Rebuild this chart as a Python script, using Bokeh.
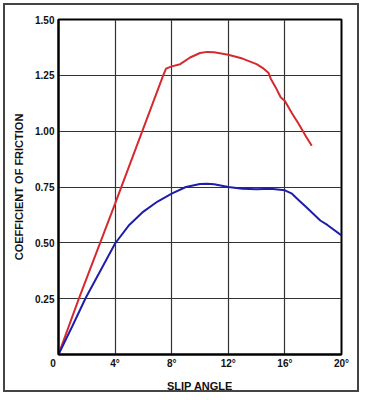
from bokeh.plotting import figure
from bokeh.models import FixedTicker, Range1d
from bokeh.embed import file_html
from bokeh.resources import INLINE

# Data
red_x = [0, 1.44, 4, 7.4, 7.6, 8, 8.6, 9.3, 10, 10.5, 11, 12, 13, 14, 14.5, 14.85, 15.0, 15.34, 15.7, 16, 16.5, 17, 17.5, 17.9]
red_y = [0, 0.25, 0.676, 1.25, 1.28, 1.29, 1.30, 1.33, 1.35, 1.355, 1.353, 1.342, 1.325, 1.30, 1.28, 1.26, 1.235, 1.197, 1.152, 1.135, 1.08, 1.03, 0.975, 0.935]

blue_x = [0, 1, 1.91, 2.97, 4, 5, 6, 7, 8, 9, 10, 10.5, 11, 12, 13, 14, 15, 16, 16.5, 17, 17.5, 18, 18.5, 19, 20]
blue_y = [0, 0.13, 0.252, 0.376, 0.497, 0.58, 0.64, 0.685, 0.72, 0.75, 0.763, 0.765, 0.762, 0.75, 0.742, 0.74, 0.742, 0.735, 0.72, 0.69, 0.66, 0.63, 0.60, 0.58, 0.533]

x_ticks = [0, 4, 8, 12, 16, 20]
x_tick_labels = ["0\u2007\u2007", "4°", "8°", "12°", "16°", "20°"]
grid_x = [4, 8, 12, 16, 20]
y_ticks = [0.25, 0.5, 0.75, 1.0, 1.25, 1.5]
y_tick_labels = ["0.25", "0.50", "0.75", "1.00", "1.25", "1.50"]

FONT = "Liberation Sans"

p = figure(width=356, height=389, output_backend="svg", toolbar_location=None,
           x_range=Range1d(0, 20), y_range=Range1d(0, 1.5),
           min_border_left=53, min_border_top=14, min_border_right=20, min_border_bottom=40,
           styles={"border": "2px solid #444444", "margin-left": "3px", "margin-top": "3px"})
p.background_fill_color = "white"
p.border_fill_color = "white"
p.outline_line_color = "black"
p.outline_line_width = 2

for ax in (p.xaxis, p.yaxis):
    ax.axis_line_color = "black"
    ax.axis_line_width = 2
    ax.major_tick_line_color = None
    ax.minor_tick_line_color = None
    ax.major_tick_out = 0
    ax.major_tick_in = 0
    ax.minor_tick_out = 0
    ax.minor_tick_in = 0
    ax.major_label_text_font = FONT
    ax.major_label_text_font_style = "bold"
    ax.major_label_text_font_size = "10px"
    ax.major_label_text_color = "#111111"
    ax.axis_label_text_font = FONT
    ax.axis_label_text_font_style = "bold"
    ax.axis_label_text_font_size = "11px"
    ax.axis_label_text_color = "#111111"

p.xaxis.ticker = FixedTicker(ticks=x_ticks)
p.xaxis.major_label_overrides = {t: l for t, l in zip(x_ticks, x_tick_labels)}
p.xaxis.major_label_standoff = 3
p.xaxis.axis_label = "SLIP ANGLE"
p.xaxis.axis_label_standoff = 8

p.yaxis.ticker = FixedTicker(ticks=y_ticks)
p.yaxis.major_label_overrides = {t: l for t, l in zip(y_ticks, y_tick_labels)}
p.yaxis.major_label_standoff = 4
p.yaxis.axis_label = "COEFFICIENT OF FRICTION"
p.yaxis.axis_label_standoff = 7

p.xgrid.ticker = FixedTicker(ticks=grid_x)
p.ygrid.ticker = FixedTicker(ticks=y_ticks)
for g in (p.xgrid, p.ygrid):
    g.grid_line_color = "#333333"
    g.grid_line_width = 1.2

p.line(red_x, red_y, line_color="#d42a2f", line_width=2)
p.line(blue_x, blue_y, line_color="#1e1eaa", line_width=2)

open("out.html", "w").write(file_html(p, INLINE))
